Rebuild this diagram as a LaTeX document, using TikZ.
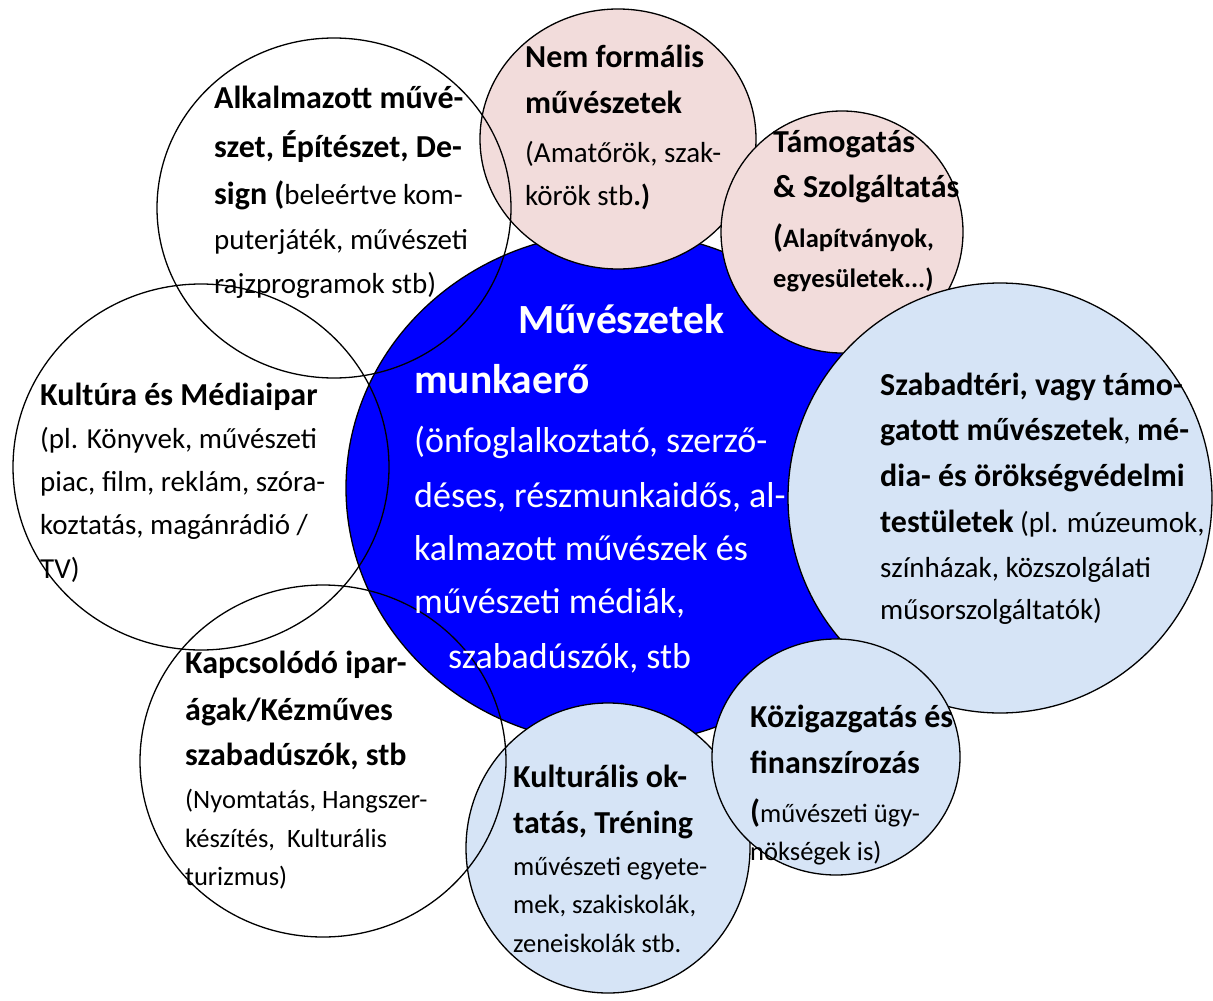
\documentclass[tikz,border=0pt]{standalone}
\usepackage{fontspec}
\setmainfont{Carlito}

\definecolor{workblue}{RGB}{0,0,255}
\definecolor{bubblepink}{RGB}{242,220,219}
\definecolor{bubbleblue}{RGB}{214,228,246}

\newcommand{\hb}[1]{{\fontsize{32}{37}\selectfont\bfseries #1}}
\newcommand{\smb}[1]{{\fontsize{26.5}{32}\selectfont\bfseries #1}}
\newcommand{\topstrut}{\rule{0pt}{40pt}}

\begin{document}
\begin{tikzpicture}[x=1pt, y=-1pt,
  bubble/.style={draw=black, line width=1.3pt},
  blurb/.style={anchor=north west, inner sep=0pt, align=left, yshift=40pt,
    font=\fontsize{29}{43}\selectfont}]
  \fill[white] (0,0) rectangle (1213,1001);
  \useasboundingbox (0,0) rectangle (1213,1001);

  % centre
  \draw[bubble, fill=workblue] (618,488) ellipse [x radius=272, y radius=256];
  % filled bubbles
  \draw[bubble, fill=bubblepink] (618,139) ellipse [x radius=138, y radius=130];
  \draw[bubble, fill=bubblepink] (842,232) ellipse [x radius=121, y radius=121];
  \draw[bubble, fill=bubbleblue] (1000,498) ellipse [x radius=212, y radius=215];
  \draw[bubble, fill=bubbleblue] (608,848) ellipse [x radius=142, y radius=145];
  \draw[bubble, fill=bubbleblue] (836,757) ellipse [x radius=124, y radius=118];
  % open bubbles
  \draw[bubble] (334,208) ellipse [x radius=177, y radius=170];
  \draw[bubble] (201,467) ellipse [x radius=188, y radius=183];
  \draw[bubble] (323,761) ellipse [x radius=183, y radius=176];

  \node[blurb] (alkalmazott) at (214,108) {\topstrut\hb{Alkalmazott művé-}\\[6pt]\hb{szet, Építészet, De-}\\[4pt]\hb{sign (}beleértve kom-\\[2pt]puterjáték, művészeti\\[1pt]rajzprogramok stb)};
  \node[blurb, font=\fontsize{29}{45}\selectfont] (nemformalis) at (525,67) {\topstrut\hb{Nem formális}\\[1pt]\hb{művészetek}\\[4pt](Amatőrök, szak-\\[-2pt]körök stb\textbf{.)}};
  \node[blurb, font=\fontsize{29}{45}\selectfont] (tamogatas) at (773,152) {\topstrut\hb{Támogatás}\\\hb{\& Szolgáltatás}\\[5pt]\hb{(}\smb{Alapítványok,}\\[-5pt]\smb{egyesületek...)}};
  \node[blurb, text=white, font=\fontsize{36}{54}\selectfont] (munkaero) at (414,333) {\topstrut\hspace*{104pt}{\fontsize{41.5}{50}\selectfont\bfseries Művészetek}\\[6pt]{\fontsize{41.5}{50}\selectfont\bfseries munkaerő}\\[5pt](önfoglalkoztató, szerző-\\[1pt]déses, részmunkaidős, al-\\[-1pt]kalmazott művészek és\\[-1pt]művészeti médiák,\\[1pt]\hspace*{34pt}szabadúszók, stb};
  \node[blurb] (kultura) at (40,405) {\topstrut\hb{Kultúra és Médiaipar}\\(pl. Könyvek, művészeti\\piac, film, reklám, szóra-\\koztatás, magánrádió /\\[1pt]TV)};
  \node[blurb, font=\fontsize{29}{45}\selectfont] (szabadteri) at (880,395) {\topstrut\hb{Szabadtéri, vagy támo-}\\\hb{gatott művészetek}, \hb{mé-}\\[1pt]\hb{dia- és örökségvédelmi}\\[1pt]\hb{testületek} (pl. múzeumok,\\színházak, közszolgálati\\[-3pt]műsorszolgáltatók)};
  \node[blurb, font=\fontsize{26.5}{45}\selectfont] (kapcsolodo) at (185,673) {\topstrut\hb{Kapcsolódó ipar-}\\[2pt]\hb{ágak/Kézműves}\\\hb{szabadúszók, stb}\\[-2pt](Nyomtatás, Hangszer-\\[-6pt]készítés,\ \ Kulturális\\[-7pt]turizmus)};
  \node[blurb, font=\fontsize{26.5}{40}\selectfont] (oktatas) at (513,787) {\topstrut\hb{Kulturális ok-}\\[6pt]\hb{tatás, Tréning}\\[2pt]művészeti egyete-\\[-2pt]mek, szakiskolák,\\[-1pt]zeneiskolák stb.};
  \node[blurb, font=\fontsize{26.5}{45}\selectfont] (kozigazgatas) at (750,727) {\topstrut\hb{Közigazgatás és}\\[1pt]\hb{finanszírozás}\\[4pt]\hb{(}művészeti ügy-\\[-7pt]nökségek is)};
\end{tikzpicture}
\end{document}
